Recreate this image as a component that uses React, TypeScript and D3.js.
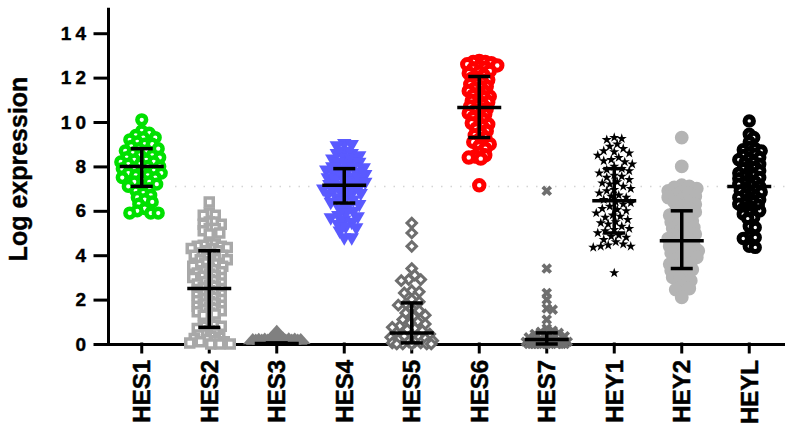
import React, { useEffect, useRef } from 'react';
import * as d3 from 'd3';

// gene names on the x axis
const categories = ['HES1', 'HES2', 'HES3', 'HES4', 'HES5', 'HES6', 'HES7', 'HEY1', 'HEY2', 'HEYL'];

// individual samples per gene (log expression)
const hes1 = [10.1, 9.6, 9.5, 9.4, 9.3, 9.3, 9.2, 9.1, 9.0, 9.0, 8.9, 8.8, 8.8, 8.7, 8.7, 8.6, 8.5, 8.5, 8.4, 8.4, 8.3, 8.3, 8.2, 8.2, 8.1, 8.1, 8.0, 8.0, 7.9, 7.9, 7.8, 7.8, 7.7, 7.7, 7.6, 7.6, 7.5, 7.5, 7.4, 7.3, 7.3, 7.2, 7.1, 7.1, 7.0, 6.9, 6.8, 6.7, 6.6, 6.5, 6.4, 6.3, 6.1, 6.0, 5.9, 5.9, 5.9];
const hes2 = [6.4, 5.9, 5.8, 5.8, 5.5, 5.5, 5.4, 5.4, 5.2, 5.2, 5.1, 5.0, 4.95, 4.5, 4.5, 4.45, 4.4, 4.4, 4.35, 4.3, 4.3, 4.2, 4.2, 4.1, 4.05, 4.0, 4.0, 3.9, 3.85, 3.8, 3.8, 3.7, 3.65, 3.6, 3.55, 3.5, 3.5, 3.4, 3.35, 3.3, 3.25, 3.2, 3.15, 3.1, 3.05, 3.0, 3.0, 2.9, 2.85, 2.8, 2.75, 2.7, 2.65, 2.6, 2.55, 2.5, 2.45, 2.4, 2.35, 2.3, 2.25, 2.2, 2.15, 2.1, 2.05, 2.0, 1.95, 1.9, 1.85, 1.8, 1.75, 1.7, 1.65, 1.6, 1.55, 1.5, 1.45, 1.4, 1.35, 1.3, 0.9, 0.85, 0.8, 0.8, 0.7, 0.6, 0.5, 0.45, 0.4, 0.35, 0.3, 0.25, 0.2, 0.15, 0.1, 0.1, 0.05, 0.0, 0.0, 0.0];
const hes3 = [0.4, 0.12, 0.1, 0.08, 0.06, 0.05, 0.05, 0.04, 0.03, 0.02, 0.02, 0.01, 0, 0, 0, 0, 0, 0, 0, 0];
const hes4 = [9.05, 9.0, 8.95, 8.7, 8.6, 8.6, 8.5, 8.4, 8.35, 8.3, 8.2, 8.2, 8.1, 8.0, 8.0, 7.95, 7.9, 7.85, 7.8, 7.75, 7.7, 7.65, 7.6, 7.55, 7.5, 7.45, 7.4, 7.35, 7.3, 7.25, 7.2, 7.15, 7.1, 7.05, 7.0, 6.95, 6.9, 6.85, 6.8, 6.75, 6.7, 6.6, 6.5, 6.45, 6.4, 6.3, 6.2, 6.1, 6.0, 5.9, 5.8, 5.75, 5.7, 5.6, 5.5, 5.4, 5.3, 5.25, 5.1, 4.8, 4.8];
const hes5 = [5.45, 5.0, 4.4, 3.4, 3.1, 2.9, 2.9, 2.85, 2.4, 2.35, 2.3, 2.0, 1.9, 1.8, 1.75, 1.6, 1.5, 1.4, 1.3, 1.25, 1.1, 1.0, 0.95, 0.9, 0.8, 0.75, 0.7, 0.65, 0.6, 0.5, 0.45, 0.4, 0.35, 0.3, 0.3, 0.25, 0.2, 0.15, 0.1, 0.1, 0.05, 0.05, 0, 0, 0, 0, 0];
const hes6 = [12.75, 12.7, 12.7, 12.65, 12.6, 12.55, 12.5, 12.45, 12.4, 12.3, 12.25, 12.2, 12.1, 12.0, 11.95, 11.9, 11.8, 11.75, 11.7, 11.6, 11.55, 11.5, 11.4, 11.35, 11.3, 11.2, 11.15, 11.1, 11.0, 10.95, 10.9, 10.8, 10.75, 10.7, 10.6, 10.55, 10.5, 10.4, 10.35, 10.3, 10.2, 10.1, 10.0, 9.95, 9.9, 9.8, 9.7, 9.6, 9.5, 9.4, 9.3, 9.2, 9.1, 9.05, 9.0, 8.9, 8.8, 8.6, 8.5, 8.45, 8.4, 8.35, 7.15];
const hes7 = [6.9, 3.4, 2.3, 2.0, 1.6, 1.55, 1.1, 0.7, 0.6, 0.55, 0.5, 0.45, 0.4, 0.35, 0.3, 0.3, 0.25, 0.2, 0.2, 0.15, 0.1, 0.1, 0.05, 0.05, 0, 0, 0, 0, 0, 0, 0, 0, 0, 0];
const hey1 = [9.3, 9.25, 9.2, 9.0, 8.9, 8.8, 8.7, 8.65, 8.6, 8.5, 8.4, 8.3, 8.25, 8.2, 8.1, 8.0, 7.9, 7.85, 7.8, 7.7, 7.6, 7.55, 7.5, 7.4, 7.3, 7.25, 7.2, 7.1, 7.0, 6.95, 6.9, 6.8, 6.7, 6.65, 6.6, 6.5, 6.4, 6.35, 6.3, 6.2, 6.1, 6.05, 6.0, 5.9, 5.8, 5.75, 5.7, 5.6, 5.5, 5.45, 5.4, 5.3, 5.2, 5.15, 5.1, 5.0, 4.9, 4.85, 4.8, 4.7, 4.6, 4.5, 4.45, 4.4, 4.4, 4.35, 3.2];
const hey2 = [9.3, 8.0, 7.15, 7.1, 7.05, 7.0, 6.9, 6.85, 6.8, 6.7, 6.65, 6.6, 6.5, 6.45, 6.4, 6.3, 6.2, 6.1, 6.0, 5.95, 5.9, 5.8, 5.7, 5.6, 5.55, 5.5, 5.4, 5.3, 5.25, 5.2, 5.1, 5.0, 4.95, 4.9, 4.8, 4.75, 4.7, 4.6, 4.5, 4.45, 4.4, 4.3, 4.25, 4.2, 4.1, 4.0, 3.95, 3.9, 3.8, 3.7, 3.65, 3.6, 3.5, 3.4, 3.35, 3.3, 3.2, 3.1, 3.0, 2.9, 2.85, 2.6, 2.5, 2.45, 2.1];
const heyl = [10.05, 9.45, 9.3, 9.1, 8.85, 8.8, 8.75, 8.7, 8.6, 8.55, 8.5, 8.4, 8.35, 8.3, 8.2, 8.15, 8.1, 8.0, 7.95, 7.9, 7.8, 7.75, 7.7, 7.6, 7.55, 7.5, 7.45, 7.4, 7.3, 7.25, 7.2, 7.15, 7.1, 7.0, 6.95, 6.9, 6.85, 6.8, 6.7, 6.65, 6.6, 6.55, 6.5, 6.4, 6.35, 6.3, 6.25, 6.2, 6.1, 6.05, 6.0, 5.9, 5.85, 5.7, 5.65, 5.3, 5.25, 4.85, 4.8, 4.75, 4.4, 4.35];

const samples = [hes1, hes2, hes3, hes4, hes5, hes6, hes7, hey1, hey2, heyl];

// mean and mean ± SD bars
const means = [8.0, 2.5, 0.02, 7.15, 0.5, 10.65, 0.2, 6.45, 4.65, 7.1];
const sdLow = [7.1, 0.75, 0, 6.35, 0.05, 9.3, 0, 5.0, 3.4, 6.1];
const sdHigh = [8.8, 4.2, 0.05, 7.9, 1.85, 12.05, 0.5, 7.9, 6.0, 8.1];

const yTicks = [0, 2, 4, 6, 8, 10, 12, 14];
const refLine = 7.1;

// marker look per gene
const markers = [
  { type: d3.symbolCircle, size: 60, fill: '#fff', stroke: '#00e000', sw: 4.5, rot: 0, sy: 1, d: 6.5, w: 23 },
  { type: d3.symbolSquare, size: 64, fill: '#fff', stroke: '#a8a8a8', sw: 3.5, rot: 0, sy: 1, d: 5.5, w: 22 },
  { type: d3.symbolTriangle, size: 170, fill: '#808080', stroke: 'none', sw: 0, rot: 0, sy: 0.65, d: 5, w: 24 },
  { type: d3.symbolTriangle, size: 90, fill: '#5a5aff', stroke: 'none', sw: 0, rot: 180, sy: 1, d: 6.5, w: 24 },
  { type: d3.symbolSquare, size: 45, fill: '#fff', stroke: '#6e6e6e', sw: 3, rot: 45, sy: 1, d: 7, w: 22 },
  { type: d3.symbolCircle, size: 70, fill: '#fff', stroke: '#ff0000', sw: 5, rot: 0, sy: 1, d: 5.5, w: 23 },
  { type: d3.symbolCross, size: 70, fill: '#6e6e6e', stroke: 'none', sw: 0, rot: 45, sy: 1, d: 6, w: 22 },
  { type: d3.symbolStar, size: 32, fill: '#000', stroke: 'none', sw: 0, rot: 0, sy: 1, d: 7, w: 37 },
  { type: d3.symbolCircle, size: 150, fill: '#b4b4b4', stroke: 'none', sw: 0, rot: 0, sy: 1, d: 6.5, w: 22 },
  { type: d3.symbolCircle, size: 55, fill: '#fff', stroke: '#000', sw: 5, rot: 0, sy: 1, d: 5.5, w: 23 },
];

const font = '"Liberation Sans", Arial, sans-serif';

// greedy beeswarm: nearest free horizontal offset, else least crowded one
function swarm(values, y, cx, d, w) {
  const placed = [];
  const sorted = [...values].sort((a, b) => b - a);
  sorted.forEach(v => {
    const py = y(v);
    let best = 0;
    let bestDist = -1;
    for (let k = 0; k <= w; k += 1.5) {
      const cands = k === 0 ? [0] : [k, -k];
      let found = false;
      for (const off of cands) {
        let minD = Infinity;
        for (const p of placed) {
          const dist = Math.hypot(p.x - (cx + off), p.y - py);
          if (dist < minD) minD = dist;
        }
        if (minD >= d) { best = off; found = true; break; }
        if (minD > bestDist) { bestDist = minD; best = off; }
      }
      if (found) break;
    }
    placed.push({ x: cx + best, y: py });
  });
  return placed;
}

const GeneScatter = () => {
  const ref = useRef(null);

  useEffect(() => {
    const svg = d3.select(ref.current);
    svg.selectAll('*').remove();

    const width = 797;
    const height = 435;
    const left = 108;
    const bottom = 344;

    const x = d3.scaleBand().domain(categories).range([left, 783]).padding(0);
    const y = d3.scaleLinear().domain([0, 15.1]).range([bottom, 8.8]);

    svg.attr('width', width).attr('height', height);

    // faint dotted reference line
    svg.append('line')
      .attr('x1', 175).attr('x2', 785)
      .attr('y1', y(refLine)).attr('y2', y(refLine))
      .attr('stroke', '#d4d4d4')
      .attr('stroke-width', 1.5)
      .attr('stroke-dasharray', '1.5 8');

    // y axis
    const yAxis = svg.append('g')
      .attr('transform', `translate(${left},0)`)
      .call(d3.axisLeft(y).tickValues(yTicks).tickSize(13).tickSizeOuter(0).tickPadding(5));
    yAxis.selectAll('path, line').attr('stroke', '#000').attr('stroke-width', 3).attr('stroke-linecap', 'square');
    yAxis.selectAll('text')
      .attr('fill', '#000')
      .attr('stroke', '#000')
      .attr('stroke-width', 0.4)
      .attr('font-family', font)
      .attr('font-weight', 'bold')
      .attr('font-size', 19)
      .attr('letter-spacing', 4);

    // x axis
    const xAxis = svg.append('g')
      .attr('transform', `translate(0,${bottom})`)
      .call(d3.axisBottom(x).tickSize(8).tickSizeOuter(0));
    xAxis.selectAll('path, line').attr('stroke', '#000').attr('stroke-width', 3).attr('stroke-linecap', 'square');
    xAxis.selectAll('text')
      .attr('fill', '#000')
      .attr('stroke', '#000')
      .attr('stroke-width', 0.5)
      .attr('font-family', font)
      .attr('font-weight', 'bold')
      .attr('font-size', 24)
      .attr('text-anchor', 'end')
      .attr('x', -16)
      .attr('y', 0)
      .attr('dy', '0.36em')
      .attr('transform', 'rotate(-90)');

    // points
    categories.forEach((c, i) => {
      const m = markers[i];
      const cx = x(c) + x.bandwidth() / 2;
      const pts = swarm(samples[i], y, cx, m.d, m.w);
      const sym = d3.symbol().type(m.type).size(m.size);
      svg.append('g')
        .selectAll('path')
        .data(pts)
        .join('path')
        .attr('d', sym)
        .attr('transform', p => `translate(${p.x},${p.y - (i === 2 ? 3 : 0)}) rotate(${m.rot}) scale(1,${m.sy})`)
        .attr('fill', m.fill)
        .attr('stroke', m.stroke)
        .attr('stroke-width', m.sw);
    });

    // mean ± SD bars
    const bars = svg.append('g').attr('stroke', '#000').attr('stroke-width', 3.5);
    categories.forEach((c, i) => {
      const cx = x(c) + x.bandwidth() / 2;
      bars.append('line').attr('x1', cx).attr('x2', cx).attr('y1', y(sdLow[i])).attr('y2', y(sdHigh[i]));
      bars.append('line').attr('x1', cx - 22).attr('x2', cx + 22).attr('y1', y(means[i])).attr('y2', y(means[i]));
      bars.append('line').attr('x1', cx - 11).attr('x2', cx + 11).attr('y1', y(sdLow[i])).attr('y2', y(sdLow[i]));
      bars.append('line').attr('x1', cx - 11).attr('x2', cx + 11).attr('y1', y(sdHigh[i])).attr('y2', y(sdHigh[i]));
    });

    // axis title
    svg.append('text')
      .attr('transform', `translate(27,169) rotate(-90)`)
      .attr('text-anchor', 'middle')
      .attr('font-family', font)
      .attr('font-weight', 'bold')
      .attr('font-size', 25)
      .attr('fill', '#000')
      .attr('stroke', '#000')
      .attr('stroke-width', 0.4)
      .text('Log expression');
  }, []);

  return <svg ref={ref} style={{ position: 'absolute', left: 0, top: 0 }} />;
};

export default function App() {
  return <GeneScatter />;
}
